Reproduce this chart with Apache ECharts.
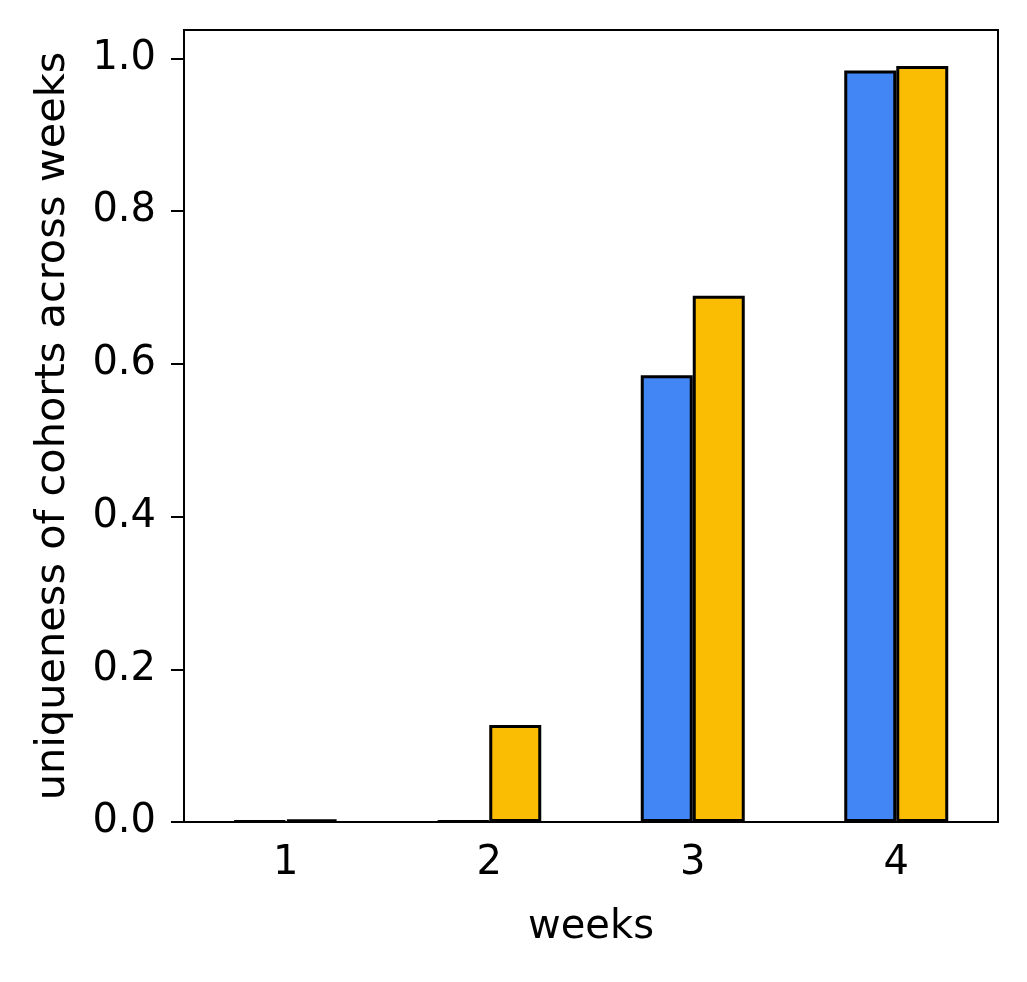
<!DOCTYPE html>
<html>
<head>
<meta charset="utf-8">
<script src="https://cdn.jsdelivr.net/npm/echarts@6/dist/echarts.min.js"></script>
<style>
  html, body { margin: 0; padding: 0; background: #fff; }
  #chart { width: 1027px; height: 982px; }
</style>
</head>
<body>
<div id="chart"></div>
<script>
// data
const weeks = ["1", "2", "3", "4"];
const blueValues = [0.001, 0.001, 0.585, 0.984];
const orangeValues = [0.003, 0.127, 0.689, 0.99];

const font = "DejaVu Sans";
const myChart = echarts.init(document.getElementById("chart"));
myChart.setOption({
  animation: false,
  grid: {
    left: 184, right: 29, top: 30, bottom: 160,
    show: true, borderColor: "#000", borderWidth: 2, backgroundColor: "transparent"
  },
  xAxis: {
    type: "category",
    data: weeks,
    boundaryGap: true,
    name: "weeks",
    nameLocation: "middle",
    nameGap: 86,
    nameTextStyle: { fontFamily: font, fontSize: 40, color: "#000" },
    axisLine: { lineStyle: { color: "#000", width: 2 } },
    axisTick: { alignWithLabel: true, length: 13, lineStyle: { color: "#000", width: 2 } },
    axisLabel: { fontFamily: font, fontSize: 40, color: "#000", margin: 22 },
    splitLine: { show: false }
  },
  yAxis: {
    type: "value",
    min: 0,
    max: 1.037,
    interval: 0.2,
    name: "uniqueness of cohorts across weeks",
    nameLocation: "middle",
    nameGap: 110,
    nameTextStyle: { fontFamily: font, fontSize: 41.5, color: "#000" },
    axisLine: { show: true, lineStyle: { color: "#000", width: 2 } },
    axisTick: { show: true, length: 13, lineStyle: { color: "#000", width: 2 } },
    axisLabel: {
      fontFamily: font, fontSize: 40, color: "#000", margin: 28,
      showMaxLabel: false,
      formatter: function (v) { return v.toFixed(1); }
    },
    splitLine: { show: false }
  },
  series: [
    {
      name: "blue",
      type: "bar",
      data: blueValues,
      barWidth: 52,
      barGap: "0%",
      itemStyle: { color: "#4285F4", borderColor: "#000", borderWidth: 3 }
    },
    {
      name: "orange",
      type: "bar",
      data: orangeValues,
      barWidth: 52,
      barGap: "0%",
      itemStyle: { color: "#FBBC04", borderColor: "#000", borderWidth: 3 }
    }
  ]
});
</script>
</body>
</html>
